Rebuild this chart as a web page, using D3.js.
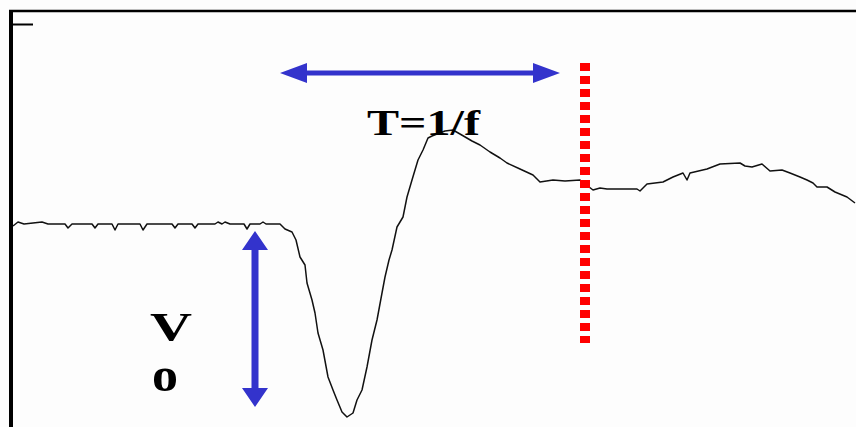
<!DOCTYPE html>
<html>
<head>
<meta charset="utf-8">
<script src="https://cdn.jsdelivr.net/npm/d3@7"></script>
<style>
  html, body { margin: 0; padding: 0; background: #fdfdfd; }
  svg { display: block; }
</style>
</head>
<body>
<svg id="chart" width="856" height="427"></svg>
<script>
// Recorded waveform: sample index and voltage (baseline = 0)
const sampleT = [2,7,13,31,37,54,57,61,81,84,87,101,104,107,129,132,136,161,164,167,181,184,187,204,207,211,214,219,233,236,239,249,252,255,269,274,281,285,289,294,296,301,304,307,312,317,322,326,331,336,342,346,351,356,361,366,371,374,378,381,386,392,396,401,407,412,417,421,426,434,442,449,461,469,479,489,496,509,522,529,542,554,569,582,589,596,609,626,629,636,652,662,672,676,679,696,709,729,734,741,751,759,771,779,789,796,802,806,816,824,836,844];
const sampleV = [-0.02,0.02,0,0.02,0,0,-0.04,0,0,-0.04,0,0,-0.06,0,0,-0.06,0,0,-0.04,0,0,-0.04,0,0,0.02,0,0.02,0,0,-0.05,0,0,0.02,0,0,-0.05,-0.08,-0.16,-0.33,-0.41,-0.59,-0.76,-0.89,-1.09,-1.26,-1.53,-1.66,-1.76,-1.88,-1.93,-1.89,-1.76,-1.66,-1.43,-1.16,-0.96,-0.69,-0.53,-0.36,-0.26,-0.03,0.07,0.27,0.44,0.64,0.74,0.86,0.88,0.90,0.93,0.94,0.90,0.83,0.79,0.72,0.66,0.61,0.55,0.49,0.42,0.44,0.43,0.44,0.34,0.36,0.35,0.35,0.35,0.33,0.40,0.42,0.47,0.51,0.44,0.51,0.55,0.60,0.61,0.58,0.57,0.60,0.53,0.54,0.51,0.47,0.44,0.41,0.37,0.37,0.32,0.27,0.21];

// Axis ticks (no labels)
const yTicks = [2.0];

// Annotations: period span, amplitude span, cycle marker
const periodSpan = { t0: 269, t1: 549, v: 1.51, label: "T=1/f" };
const ampSpan = { t: 244, v0: -0.07, v1: -1.83, label: ["V", "o"] };
const marker = { t: 574, v0: 1.61, v1: -1.19 };

const W = 856, H = 427;
const padL = 11, padT = 11;
const svg = d3.select("#chart");

const x = d3.scaleLinear().domain([0, 845]).range([padL, W]);
const y = d3.scaleLinear().domain([-2.03, 2.13]).range([H, padT]);

const data = sampleT.map((t, i) => ({ t, v: sampleV[i] }));

// Frame
svg.append("line")
  .attr("x1", padL - 2).attr("x2", W)
  .attr("y1", padT).attr("y2", padT)
  .attr("stroke", "#000").attr("stroke-width", 2.5);

const yAxis = d3.axisLeft(y).tickValues(yTicks).tickSize(-22).tickFormat("");
const gy = svg.append("g").attr("transform", `translate(${padL},0)`).call(yAxis);
gy.select(".domain").remove();
gy.selectAll(".tick line").attr("stroke", "#000").attr("stroke-width", 2);

svg.append("line")
  .attr("x1", padL).attr("x2", padL)
  .attr("y1", padT - 1).attr("y2", H)
  .attr("stroke", "#000").attr("stroke-width", 4);

// Waveform
const line = d3.line().x(d => x(d.t)).y(d => y(d.v));
svg.append("path")
  .datum(data)
  .attr("d", line)
  .attr("fill", "none")
  .attr("stroke", "#111")
  .attr("stroke-width", 1.5)
  .attr("stroke-linejoin", "round");

// Cycle marker
svg.append("line")
  .attr("x1", x(marker.t)).attr("x2", x(marker.t))
  .attr("y1", y(marker.v0)).attr("y2", y(marker.v1))
  .attr("stroke", "#ff0000").attr("stroke-width", 10)
  .attr("stroke-dasharray", "8,5");

const blue = "#3333cc";

// Horizontal double arrow
(function () {
  const x0 = x(periodSpan.t0), x1 = x(periodSpan.t1), yy = y(periodSpan.v);
  const hl = 27, hw = 10, sw = 2.5;
  const pts = [
    [x0, yy], [x0 + hl, yy - hw], [x0 + hl, yy - sw], [x1 - hl, yy - sw],
    [x1 - hl, yy - hw], [x1, yy], [x1 - hl, yy + hw], [x1 - hl, yy + sw],
    [x0 + hl, yy + sw], [x0 + hl, yy + hw]
  ];
  svg.append("polygon").attr("points", pts.map(p => p.join(",")).join(" ")).attr("fill", blue);
})();

// Vertical double arrow
(function () {
  const xx = x(ampSpan.t), y0 = y(ampSpan.v0), y1 = y(ampSpan.v1);
  const hl = 19, hw = 13, sw = 3.5;
  const pts = [
    [xx, y0], [xx + hw, y0 + hl], [xx + sw, y0 + hl], [xx + sw, y1 - hl],
    [xx + hw, y1 - hl], [xx, y1], [xx - hw, y1 - hl], [xx - sw, y1 - hl],
    [xx - sw, y0 + hl], [xx - hw, y0 + hl]
  ];
  svg.append("polygon").attr("points", pts.map(p => p.join(",")).join(" ")).attr("fill", blue);
})();

// Labels
const serif = "'Liberation Serif', 'Times New Roman', serif";
svg.append("text")
  .attr("x", 367).attr("y", 135)
  .attr("font-family", serif).attr("font-weight", "bold").attr("font-size", 35)
  .attr("textLength", 113).attr("lengthAdjust", "spacingAndGlyphs")
  .attr("fill", "#000")
  .text(periodSpan.label);

svg.append("text")
  .attr("x", 150).attr("y", 340)
  .attr("font-family", serif).attr("font-weight", "bold").attr("font-size", 41)
  .attr("textLength", 42).attr("lengthAdjust", "spacingAndGlyphs")
  .attr("fill", "#000")
  .text(ampSpan.label[0]);

svg.append("text")
  .attr("x", 152).attr("y", 391)
  .attr("font-family", serif).attr("font-weight", "bold").attr("font-size", 48)
  .attr("textLength", 26).attr("lengthAdjust", "spacingAndGlyphs")
  .attr("fill", "#000")
  .text(ampSpan.label[1]);
</script>
</body>
</html>
